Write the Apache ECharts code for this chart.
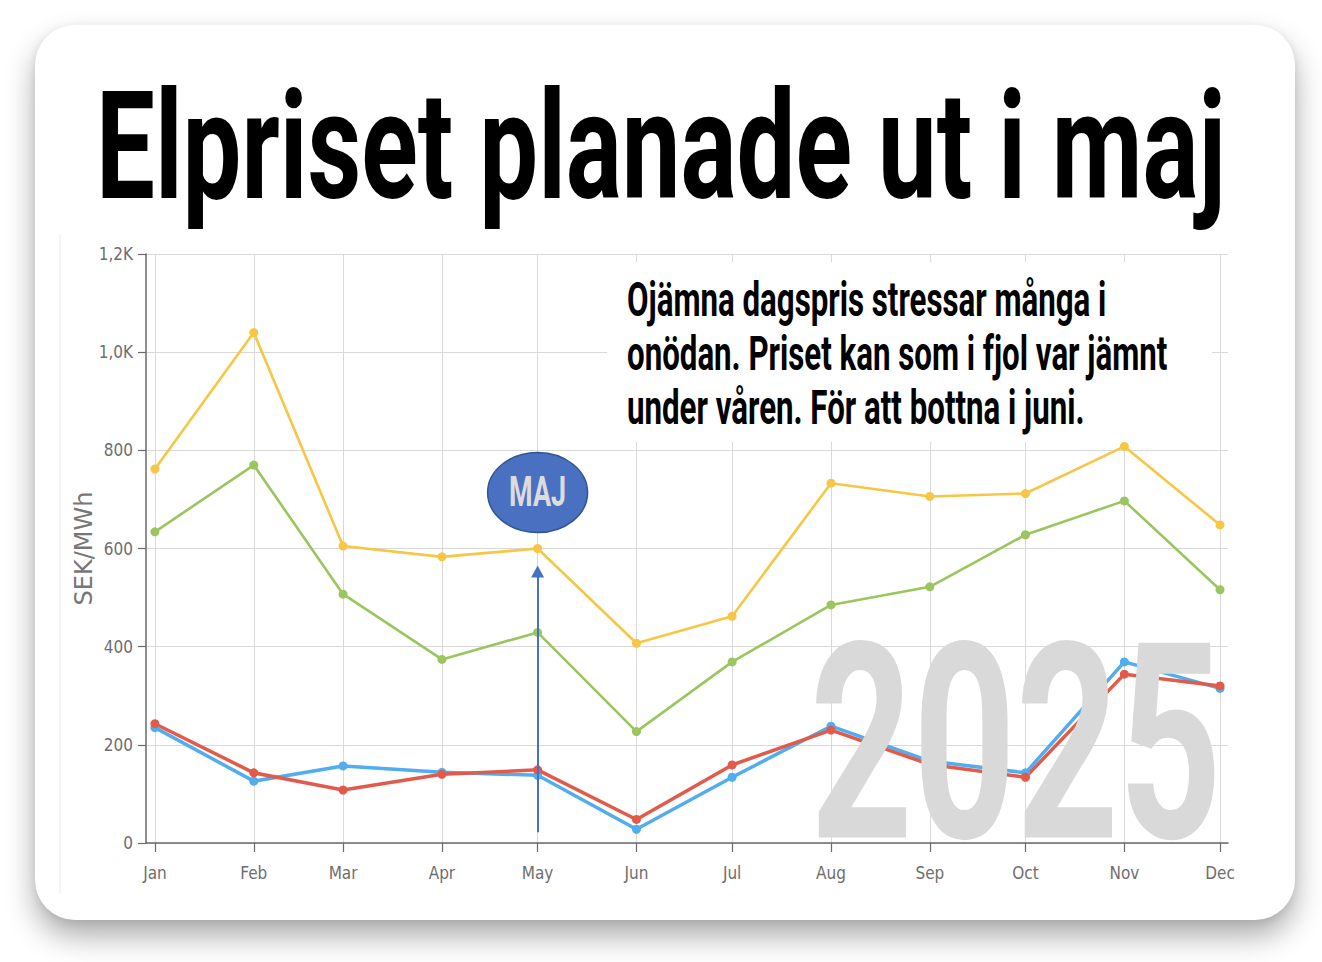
<!DOCTYPE html>
<html>
<head>
<meta charset="utf-8">
<script src="https://cdn.jsdelivr.net/npm/echarts@6/dist/echarts.min.js"></script>
<style>
  html, body { margin: 0; padding: 0; background: #ffffff; width: 1322px; height: 962px; overflow: hidden; }
  #card { position: absolute; left: 35px; top: 25px; width: 1260px; height: 895px; background: #fff;
          border-radius: 40px; box-shadow: 0 16px 30px rgba(0,0,0,0.33), 0 2px 8px rgba(0,0,0,0.08); }
  #chart { position: absolute; left: 0; top: 0; width: 1322px; height: 962px; }
</style>
</head>
<body>
<div id="card"></div>
<div id="chart"></div>
<script>
// ---- data ----
const months = ['2025-01-01','2025-02-01','2025-03-01','2025-04-01','2025-05-01','2025-06-01',
                '2025-07-01','2025-08-01','2025-09-01','2025-10-01','2025-11-01','2025-12-01'];
const monthLabels = ['Jan','Feb','Mar','Apr','May','Jun','Jul','Aug','Sep','Oct','Nov','Dec'];
const se4 = [762, 1040, 605, 583, 600, 407, 462, 733, 706, 712, 808, 648]; // yellow
const se3 = [634, 770, 507, 374, 429, 227, 369, 485, 522, 628, 697, 516];  // green
const se1 = [235, 126, 157, 144, 138, 28, 134, 238, 167, 143, 369, 315];   // blue
const se2 = [243, 143, 108, 140, 149, 48, 159, 230, 160, 134, 344, 320];   // red
const titleText = 'Elpriset planade ut i maj';
const noteLines = ['Ojämna dagspris stressar många i', 'onödan. Priset kan som i fjol var jämnt', 'under våren. För att bottna i juni.'];
const yearText = '2025';
const markText = 'MAJ';
const markAt = ['2025-05-01', 714];
const arrowFrom = 22, arrowTo = 553;

const DAY = 86400000;
const t = s => { const [y,m,d] = s.split('-').map(Number); return Date.UTC(y, m-1, d); };
const monthTs = months.map(t);
const xMin = monthTs[0] - 2.8 * DAY;
const xMax = monthTs[11] + 2.5 * DAY;

const mk = arr => arr.map((v, i) => [monthTs[i], v]);
const condensed = '"Liberation Sans Narrow", "DejaVu Sans Condensed", "Roboto", sans-serif';

function lineSeries(name, data, color, width, size) {
  return {
    name, type: 'line', data: mk(data), symbol: 'circle', symbolSize: size,
    lineStyle: { color, width }, itemStyle: { color }, emphasis: { disabled: true }, z: 3
  };
}

const chart = echarts.init(document.getElementById('chart'), null, { renderer: 'svg' });
const red = lineSeries('SE2', se2, '#E25A4A', 3.5, 9);
red.markLine = {
  silent: true, symbol: ['none', 'triangle'], symbolSize: [13, 12],
  label: { show: false }, emphasis: { disabled: true },
  lineStyle: { color: '#4472C4', width: 2, type: 'solid' },
  data: [[{ coord: [t(markAt[0]), arrowFrom] }, { coord: [t(markAt[0]), arrowTo] }]]
};

chart.setOption({
  animation: false,
  grid: { left: 146, right: 94, top: 254, bottom: 119 },
  xAxis: {
    type: 'value', min: xMin, max: xMax,
    axisLine: { lineStyle: { color: '#6a6a6a', width: 1.5 } },
    axisTick: { show: true, customValues: monthTs, length: 9, lineStyle: { color: '#6a6a6a', width: 1.2 } },
    axisLabel: {
      customValues: monthTs, margin: 21, color: '#6e6e6e', fontSize: 17, fontFamily: condensed,
      formatter: v => monthLabels[new Date(v).getUTCMonth()]
    },
    splitLine: { show: true, lineStyle: { color: '#d9d9d9', width: 1 } }
  },
  yAxis: {
    type: 'value', min: 0, max: 1200, interval: 200,
    name: 'SEK/MWh', nameLocation: 'middle', nameGap: 50, nameMoveOverlap: false,
    nameTextStyle: { color: '#777', fontSize: 24, fontFamily: '"DejaVu Sans", sans-serif' },
    axisLine: { show: true, lineStyle: { color: '#6a6a6a', width: 1.5 } },
    axisTick: { show: true, length: 8, lineStyle: { color: '#6a6a6a', width: 1.2 } },
    axisLabel: {
      margin: 13, color: '#6e6e6e', fontSize: 17, fontFamily: condensed,
      formatter: v => v >= 1000 ? (v / 1000).toFixed(1).replace('.', ',') + 'K' : String(v)
    },
    splitLine: { show: true, lineStyle: { color: '#d9d9d9', width: 1 } }
  },
  series: [
    lineSeries('SE4', se4, '#F8C645', 2.6, 9),
    lineSeries('SE3', se3, '#9BC55E', 2.6, 9),
    lineSeries('SE1', se1, '#52ADEE', 3.5, 9),
    red
  ]
});

// ---- decorative text (condensed by horizontal scaling) ----
const cv = document.createElement('canvas').getContext('2d');
function measure(text, size, weight, family) {
  cv.font = `${weight} ${size}px ${family}`;
  return cv.measureText(text).width;
}
const FAM = 'Roboto';
function scaledText(text, x, yMid, size, targetW, color, z, sx) {
  const w = measure(text, size, 'bold', FAM);
  const s = sx || targetW / w;
  return {
    type: 'text', x, y: yMid, scaleX: s, z, silent: true,
    style: { x: 0, y: 0, text, fontSize: size, fontWeight: 'bold', fontFamily: FAM, fill: color,
             align: 'left', verticalAlign: 'middle' }
  };
}

const noteSize = 49;
const noteScale = 541 / measure(noteLines[1], noteSize, 'bold', FAM);
const mp = chart.convertToPixel({ gridIndex: 0 }, [t(markAt[0]), markAt[1]]);
const majSize = 42;
const majScale = 57 / measure(markText, majSize, 'bold', FAM);
const majW = measure(markText, majSize, 'bold', FAM) * majScale;

chart.setOption({
  graphic: [
    { type: 'line', silent: true, z: 1, shape: { x1: 60, y1: 235, x2: 60, y2: 893 }, style: { stroke: '#e9e9e9', lineWidth: 1 } },
    scaledText(titleText, 96, 147, 150, 1130, '#000000', 20),
    { type: 'rect', silent: true, z: 1, shape: { x: 607, y: 262, width: 605, height: 180 }, style: { fill: '#ffffff' } },
    scaledText(noteLines[0], 627, 299, noteSize, 0, '#000000', 20, noteScale),
    scaledText(noteLines[1], 627, 353, noteSize, 0, '#000000', 20, noteScale),
    scaledText(noteLines[2], 627, 407, noteSize, 0, '#000000', 20, noteScale),
    scaledText(yearText, 810, 744, 274, 412, '#d9d9d9', 15),
    { type: 'ellipse', silent: true, z: 20, shape: { cx: mp[0], cy: mp[1], rx: 50, ry: 40 },
      style: { fill: '#4A70C2', stroke: '#2F5597', lineWidth: 1.5 } },
    scaledText(markText, mp[0] - majW / 2, mp[1] - 1, majSize, 0, '#dcdcdc', 21, majScale)
  ]
});
</script>
</body>
</html>
